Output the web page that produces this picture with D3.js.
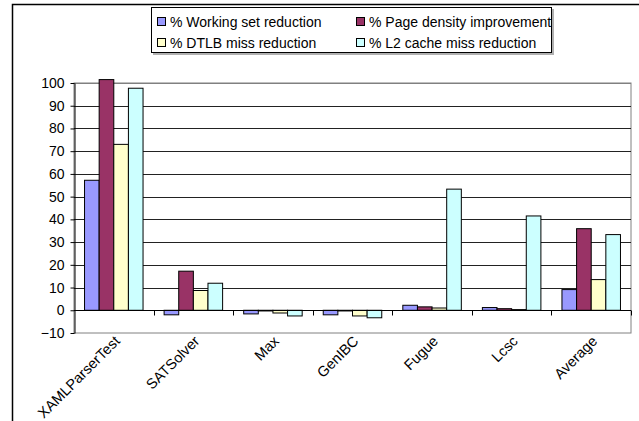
<!DOCTYPE html>
<html>
<head>
<meta charset="utf-8">
<script src="https://cdn.jsdelivr.net/npm/d3@7"></script>
<style>
  html, body { margin: 0; padding: 0; background: #fff; }
  svg { display: block; font-family: "Liberation Sans", Arial, sans-serif; }
</style>
</head>
<body>
<svg id="chart" width="639" height="421"></svg>
<script>
// Benchmarks on the x axis
const categories = ["XAMLParserTest", "SATSolver", "Max", "GenIBC", "Fugue", "Lcsc", "Average"];

// One array per measured metric (percent)
const workingSet   = [57.2, -2.0, -1.6, -2.0, 2.2, 1.2, 9.1];
const pageDensity  = [101.5, 17.2, -0.3, -0.3, 1.5, 0.7, 35.9];
const dtlbMiss     = [73.0, 8.7, -1.2, -2.5, 1.0, 0.3, 13.5];
const l2CacheMiss  = [97.7, 11.9, -2.5, -3.3, 53.3, 41.5, 33.3];

const seriesNames  = ["% Working set reduction", "% Page density improvement",
                      "% DTLB miss reduction", "% L2 cache miss reduction"];
const seriesColors = ["#9999FF", "#993366", "#FFFFCC", "#CCFFFF"];
const yTicks = [-10, 0, 10, 20, 30, 40, 50, 60, 70, 80, 90, 100];

const series = [workingSet, pageDensity, dtlbMiss, l2CacheMiss];
const FONT = "Liberation Sans, Arial, sans-serif";

const svg = d3.select("#chart");

// Outer chart frame
svg.append("rect")
  .attr("x", 12.5).attr("y", 4.5)
  .attr("width", 640).attr("height", 430)
  .attr("fill", "none").attr("stroke", "#000").attr("stroke-width", 1.5);

const plot = { left: 74, right: 631, top: 83, bottom: 333 };

const y = d3.scaleLinear().domain([-10, 100]).range([plot.bottom, plot.top]);
const x0 = d3.scaleBand().domain(categories).range([plot.left, plot.right]);
const x1 = d3.scaleBand().domain(d3.range(series.length))
  .range([0, x0.bandwidth()]).paddingOuter(0.72).paddingInner(0);

// Plot area border
svg.append("rect")
  .attr("x", plot.left).attr("y", plot.top)
  .attr("width", plot.right - plot.left).attr("height", plot.bottom - plot.top)
  .attr("fill", "#fff").attr("stroke", "#808080").attr("stroke-width", 1);

// Horizontal gridlines
svg.append("g").selectAll("line")
  .data(yTicks.filter(t => t !== -10 && t !== 0 && t !== 100))
  .join("line")
  .attr("x1", plot.left).attr("x2", plot.right)
  .attr("y1", d => Math.round(y(d)) + 0.5).attr("y2", d => Math.round(y(d)) + 0.5)
  .attr("stroke", "#222").attr("stroke-width", 1);

svg.append("line")
  .attr("x1", plot.left).attr("x2", plot.right)
  .attr("y1", Math.round(y(100)) + 0.5).attr("y2", Math.round(y(100)) + 0.5)
  .attr("stroke", "#808080");

// Bars
const groups = svg.append("g").selectAll("g")
  .data(categories)
  .join("g")
  .attr("transform", d => `translate(${x0(d)},0)`);

groups.selectAll("rect")
  .data((d, i) => series.map((s, k) => ({ k, v: s[i] })))
  .join("rect")
  .attr("x", d => x1(d.k))
  .attr("width", x1.bandwidth())
  .attr("y", d => Math.min(y(d.v), y(0)))
  .attr("height", d => Math.abs(y(d.v) - y(0)))
  .attr("fill", d => seriesColors[d.k])
  .attr("stroke", "#000").attr("stroke-width", 1);

// Y axis
const yAxis = d3.axisLeft(y).tickValues(yTicks).tickSize(4).tickSizeOuter(0);
const gy = svg.append("g")
  .attr("transform", `translate(${plot.left + 0.5},0)`)
  .call(yAxis);
gy.select(".domain").attr("stroke", "#000");
gy.selectAll(".tick line").attr("stroke", "#000");
gy.selectAll(".tick text")
  .attr("font-size", 14).attr("fill", "#000")
  .attr("font-family", FONT)
  .attr("x", -10);

// Zero axis with category boundary ticks
const y0 = Math.round(y(0)) + 0.5;
svg.append("line")
  .attr("x1", plot.left).attr("x2", plot.right)
  .attr("y1", y0).attr("y2", y0)
  .attr("stroke", "#000");
svg.append("g").selectAll("line")
  .data(categories.slice(1).concat(["end"]))
  .join("line")
  .attr("x1", (d, i) => Math.round(plot.left + (i + 1) * x0.step()) + 0.5)
  .attr("x2", (d, i) => Math.round(plot.left + (i + 1) * x0.step()) + 0.5)
  .attr("y1", y0).attr("y2", y0 + 5)
  .attr("stroke", "#000");

// Rotated category labels
svg.append("g").selectAll("text")
  .data(categories)
  .join("text")
  .attr("transform", d => `translate(${x0(d) + x0.bandwidth() / 2 + 7},${plot.bottom + 9}) rotate(-45)`)
  .attr("text-anchor", "end")
  .attr("font-size", 14.5)
  .attr("font-family", FONT)
  .attr("fill", "#000")
  .text(d => d);

// Legend
const legend = svg.append("g");
legend.append("rect")
  .attr("x", 153).attr("y", 9)
  .attr("width", 401).attr("height", 46)
  .attr("fill", "#b0b0b0");
legend.append("rect")
  .attr("x", 151.5).attr("y", 7.5)
  .attr("width", 400).attr("height", 45)
  .attr("fill", "#fff").attr("stroke", "#000");

const legendPos = [[157, 22], [356, 22], [157, 43], [356, 43]];
seriesNames.forEach((name, k) => {
  const [lx, ly] = legendPos[k];
  legend.append("rect")
    .attr("x", lx + 0.5).attr("y", ly - 4.5)
    .attr("width", 8).attr("height", 8)
    .attr("fill", seriesColors[k]).attr("stroke", "#000");
  legend.append("text")
    .attr("x", lx + 13).attr("y", ly + 5)
    .attr("font-size", 14)
    .attr("font-family", FONT)
    .attr("fill", "#000")
    .text(name);
});
</script>
</body>
</html>
